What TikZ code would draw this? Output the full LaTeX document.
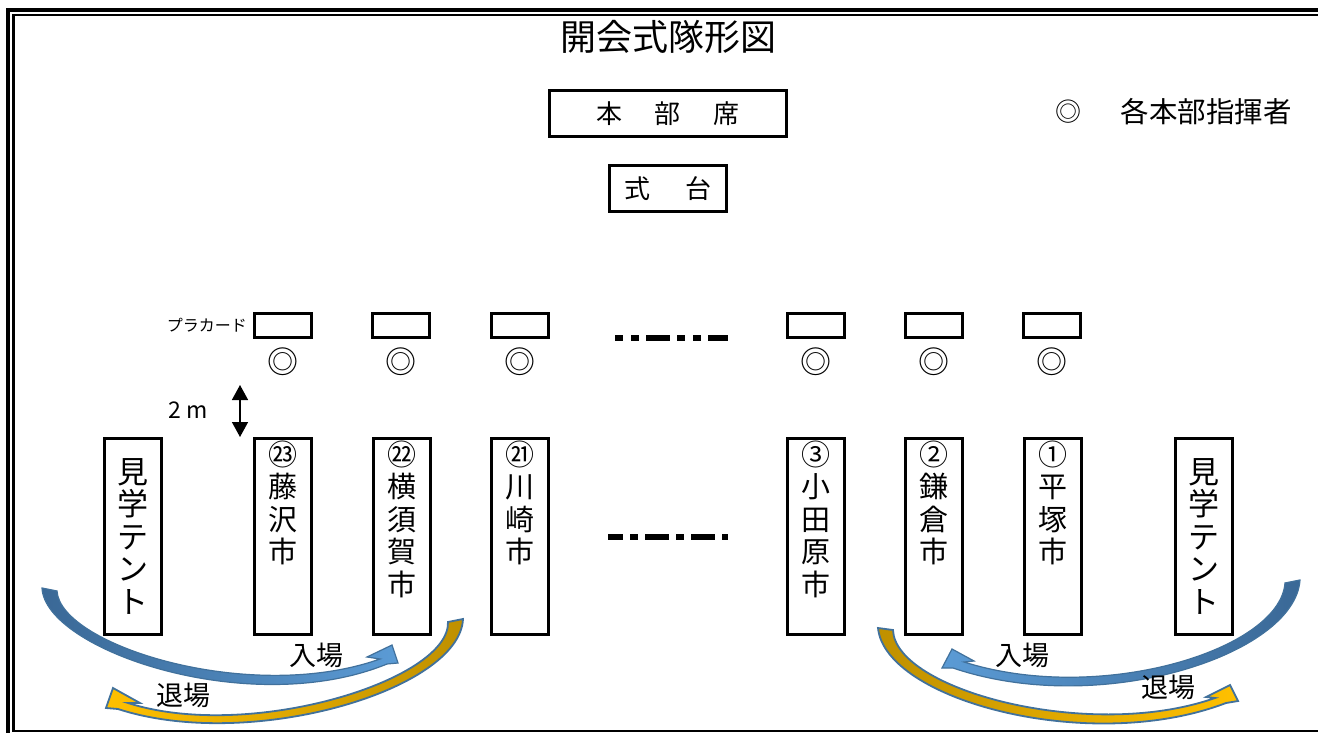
\documentclass[tikz,border=0pt]{standalone}
\usepackage{fontspec}
\setmainfont{Noto Sans CJK JP}
\usetikzlibrary{positioning,arrows.meta}

\definecolor{edgeblue}{HTML}{41719C}
\definecolor{bluedark}{HTML}{3A6896}
\definecolor{bluelight}{HTML}{5B9BD5}
\definecolor{golddark}{HTML}{BF9000}
\definecolor{goldlight}{HTML}{FFC000}

\tikzset{
  plainbox/.style={draw, line width=3pt, inner sep=0pt, outer sep=0pt},
  honbu/.style={plainbox, minimum width=237pt, minimum height=46pt, font=\fontsize{26}{30}\selectfont},
  shikidai/.style={plainbox, minimum width=117pt, minimum height=46pt, font=\fontsize{26}{30}\selectfont},
  placard/.style={plainbox, minimum width=57pt, minimum height=24pt},
  citybox/.style={plainbox, minimum width=57pt, minimum height=196pt},
  citylabel/.style={align=center, inner sep=0pt, font=\fontsize{29}{32.5}\selectfont},
  tentlabel/.style={align=center, inner sep=0pt, font=\fontsize{31}{32.5}\selectfont},
  leader/.style={inner sep=0pt, font=\fontsize{31}{32}\selectfont},
  moveword/.style={inner sep=0pt, font=\fontsize{27}{30}\selectfont},
  entryarrow/.style={draw=edgeblue, line width=1.2pt},
  exitarrow/.style={draw=edgeblue, line width=1.8pt}
}

\begin{document}
\begin{tikzpicture}[x=1pt,y=-1pt]
\useasboundingbox (0,0) rectangle (1318,733);
\clip (0,0) rectangle (1318,733);
% double frame
\draw[line width=4pt] (8,10) rectangle (1340,750);
\draw[line width=2.5pt] (13.5,15) rectangle (1332,731);

\node[font=\fontsize{36}{40}\selectfont] (title) at (668,37) {開会式隊形図};
\node[honbu] (honbu) at (668,113.5) {本\hspace{33pt}部\hspace{33pt}席};
\node[shikidai] (dai) at (668,188.5) {式\hspace{36pt}台};
\node[font=\fontsize{26}{30}\selectfont] (legmark) at (1068,112) {◎};
\node[font=\fontsize{28.5}{30}\selectfont, anchor=west] (legtext) at (1117,112) {各本部指揮者};

% placards and leaders
\node[placard] (p23) at (283,325.5) {};
\node[placard] (p22) at (401,325.5) {};
\node[placard] (p21) at (520,325.5) {};
\node[placard] (p3) at (816,325.5) {};
\node[placard] (p2) at (934,325.5) {};
\node[placard] (p1) at (1052,325.5) {};
\node[font=\fontsize{16}{18}\selectfont, left=4pt of p23] (plabel) {プラカード};
\node[leader] (m23) at (283,362) {◎};
\node[leader] (m22) at (401,362) {◎};
\node[leader] (m21) at (520,362) {◎};
\node[leader] (m3) at (816,362) {◎};
\node[leader] (m2) at (934,362) {◎};
\node[leader] (m1) at (1052,362) {◎};
\draw[line width=6pt, dash pattern=on 8pt off 8pt on 8pt off 7pt on 24pt off 7pt] (615,338) -- (728,338);

% 2 m
\coordinate (mtop) at (240,385);
\coordinate (mbot) at (240,437);
\draw[line width=1.5pt, {Triangle[width=16pt,length=15pt]}-{Triangle[width=16pt,length=15pt]}] (mtop) -- (mbot);
\node[font=\fontsize{23}{26}\selectfont] (twom) at (188,410) {2 m};

% columns
\node[citybox] (tentl) at (132.5,536) {};
\node[tentlabel] (tentltext) at (tentl) {見\\学\\テ\\ン\\ト};
\node[citybox] (c23) at (283,536) {};
\node[citylabel, below=2.5pt of c23.north] (l23) {㉓\\藤\\沢\\市};
\node[citybox] (c22) at (401.5,536) {};
\node[citylabel, below=2.5pt of c22.north] (l22) {㉒\\横\\須\\賀\\市};
\node[citybox] (c21) at (520,536) {};
\node[citylabel, below=2.5pt of c21.north] (l21) {㉑\\川\\崎\\市};
\node[citybox] (c3) at (815.5,536) {};
\node[citylabel, below=2.5pt of c3.north] (l3) {③\\小\\田\\原\\市};
\node[citybox] (c2) at (934,536) {};
\node[citylabel, below=2.5pt of c2.north] (l2) {②\\鎌\\倉\\市};
\node[citybox] (c1) at (1053,536) {};
\node[citylabel, below=2.5pt of c1.north] (l1) {①\\平\\塚\\市};
\node[citybox] (tentr) at (1204,536) {};
\node[tentlabel] (tentrtext) at (tentr) {見\\学\\テ\\ン\\ト};
\draw[line width=6pt, dash pattern=on 24pt off 7pt on 8pt off 7pt, dash phase=9pt] (608,537) -- (728,537);

% entry / exit arrows
\path[entryarrow, left color=bluedark, right color=bluelight]
  (42,588) .. controls (45,650) and (250,720) .. (387,664)
  -- (398,663) -- (392,645) -- (367,657) -- (380,659)
  .. controls (250,705) and (60,645) .. (57,591) -- cycle;
\path[exitarrow, left color=goldlight, right color=golddark]
  (463,619) .. controls (460,690) and (250,752) .. (118,709)
  -- (106,708) -- (113,688) -- (140,703) -- (128,703)
  .. controls (250,742) and (450,680) .. (448,622) -- cycle;
\path[entryarrow, left color=bluelight, right color=bluedark]
  (1300,580) .. controls (1295,655) and (1100,718) .. (953,668)
  -- (942,668) -- (952,649) -- (974,661) -- (964,662)
  .. controls (1100,705) and (1280,650) .. (1285,583) -- cycle;
\path[exitarrow, left color=golddark, right color=goldlight]
  (878,628) .. controls (885,700) and (1090,755) .. (1226,703)
  -- (1238,701) -- (1230,685) -- (1206,697) -- (1215,698)
  .. controls (1090,742) and (895,690) .. (893,630) -- cycle;
\node[moveword] (inl) at (316,655) {入場};
\node[moveword] (outl) at (183,695) {退場};
\node[moveword] (inr) at (1022,655) {入場};
\node[moveword] (outr) at (1168,687) {退場};
\end{tikzpicture}
\end{document}
